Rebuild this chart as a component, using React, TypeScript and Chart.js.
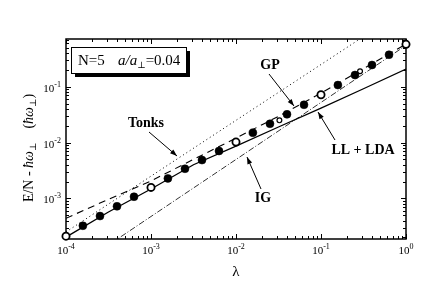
import React, { useEffect, useRef } from "react";
import { Chart, registerables } from "chart.js";
Chart.register(...registerables);

// ---- data ----
const lambdaFilled = [1.58e-4, 2.51e-4, 3.98e-4, 6.31e-4, 1.58e-3, 2.51e-3, 3.98e-3, 6.31e-3, 1.58e-2, 2.51e-2, 3.98e-2, 6.31e-2, 0.158, 0.251, 0.398, 0.631];
const energyFilled = [3.23e-4, 4.82e-4, 7.2e-4, 1.07e-3, 2.28e-3, 3.39e-3, 4.85e-3, 7.05e-3, 1.5e-2, 2.17e-2, 3.2e-2, 4.75e-2, 0.107, 0.162, 0.245, 0.374];
const lambdaOpen = [1e-4, 1e-3, 1e-2, 1e-1, 1];
const energyOpen = [2.1e-4, 1.57e-3, 1.02e-2, 7.19e-2, 0.575];
const lambdaOpenSmall = [0.0324, 0.288];
const energyOpenSmall = [0.025, 0.189];
const lambdaCurve = [1e-4, 3.16e-4, 1e-3, 3.16e-3, 1e-2, 3.16e-2, 1e-1, 3.16e-1, 1];
const energyLL = [2.02e-4, 5.7e-4, 1.47e-3, 4.0e-3, 8.65e-3, 1.9e-2, 4.15e-2, 9.2e-2, 0.207];
const energyGP = [4.4e-4, 9.6e-4, 2.05e-3, 5.0e-3, 1.2e-2, 2.95e-2, 7.7e-2, 0.21, 0.58];
const lambdaTonks = [1e-4, 1];
const energyTonks = [2.5e-4, 2.5];
const lambdaIG = [1e-4, 1];
const energyIG = [4.5e-5, 0.55];
const xDecades = [-4, -3, -2, -1, 0];
const yDecades = [-3, -2, -1];

const pts = (xs: number[], ys: number[]) => xs.map((x, i) => ({ x, y: ys[i] }));

const SERIF = '"Liberation Serif", "DejaVu Serif", serif';

function arrow(ctx: CanvasRenderingContext2D, x1: number, y1: number, x2: number, y2: number) {
  ctx.beginPath();
  ctx.moveTo(x1, y1);
  ctx.lineTo(x2, y2);
  ctx.stroke();
  const a = Math.atan2(y2 - y1, x2 - x1);
  const L = 7, W = 2.5;
  ctx.beginPath();
  ctx.moveTo(x2, y2);
  ctx.lineTo(x2 - L * Math.cos(a) + W * Math.sin(a), y2 - L * Math.sin(a) - W * Math.cos(a));
  ctx.lineTo(x2 - L * Math.cos(a) - W * Math.sin(a), y2 - L * Math.sin(a) + W * Math.cos(a));
  ctx.closePath();
  ctx.fill();
}

function power(ctx: CanvasRenderingContext2D, exp: number, x: number, y: number, align: "center" | "right") {
  const base = "10";
  const e = exp < 0 ? "-" + Math.abs(exp) : String(exp);
  ctx.font = `11px ${SERIF}`;
  const wb = ctx.measureText(base).width;
  ctx.font = `8px ${SERIF}`;
  const we = ctx.measureText(e).width;
  const total = wb + we;
  const sx = align === "center" ? x - total / 2 : x - total;
  ctx.textAlign = "left";
  ctx.textBaseline = "alphabetic";
  ctx.font = `11px ${SERIF}`;
  ctx.fillText(base, sx, y);
  ctx.font = `8px ${SERIF}`;
  ctx.fillText(e, sx + wb, y - 5);
}

const overlay = {
  id: "overlay",
  beforeDraw(chart: any) {
    const ctx = chart.ctx;
    ctx.save();
    ctx.fillStyle = "#fff";
    ctx.fillRect(0, 0, chart.width, chart.height);
    ctx.restore();
  },
  beforeDatasetsDraw(chart: any) {
    const ctx: CanvasRenderingContext2D = chart.ctx;
    const { left, right, top, bottom } = chart.chartArea;
    const xs = chart.scales.x;
    const ys = chart.scales.y;
    ctx.save();
    ctx.strokeStyle = "#000";
    ctx.lineWidth = 1;
    // ticks
    for (let d = -4; d <= 0; d++) {
      for (let m = 1; m <= 9; m++) {
        const v = m * Math.pow(10, d);
        if (v > 1.0001) break;
        const px = Math.round(xs.getPixelForValue(v)) + 0.5;
        const len = m === 1 ? 5 : 3;
        ctx.beginPath();
        ctx.moveTo(px, bottom);
        ctx.lineTo(px, bottom - len);
        ctx.moveTo(px, top);
        ctx.lineTo(px, top + len);
        ctx.stroke();
      }
    }
    for (let d = -4; d <= 0; d++) {
      for (let m = 1; m <= 9; m++) {
        const v = m * Math.pow(10, d);
        if (v < ys.min || v > ys.max) continue;
        const py = Math.round(ys.getPixelForValue(v)) + 0.5;
        const len = m === 1 ? 5 : 3;
        ctx.beginPath();
        ctx.moveTo(left, py);
        ctx.lineTo(left + len, py);
        ctx.moveTo(right, py);
        ctx.lineTo(right - len, py);
        ctx.stroke();
      }
    }
    // frame
    ctx.lineWidth = 1.5;
    ctx.strokeRect(left, top, right - left, bottom - top);
    // tick labels
    ctx.fillStyle = "#000";
    xDecades.forEach((d) => power(ctx, d, xs.getPixelForValue(Math.pow(10, d)), bottom + 15, "center"));
    yDecades.forEach((d) => power(ctx, d, left - 5, ys.getPixelForValue(Math.pow(10, d)) + 5, "right"));
    ctx.restore();
  },
  afterDraw(chart: any) {
    const ctx: CanvasRenderingContext2D = chart.ctx;
    const { left, right, bottom } = chart.chartArea;
    ctx.save();
    ctx.fillStyle = "#000";
    ctx.strokeStyle = "#000";
    // legend-like box
    ctx.fillRect(75, 51, 115, 26);
    ctx.fillStyle = "#fff";
    ctx.fillRect(71, 47, 115, 26);
    ctx.lineWidth = 1;
    ctx.strokeRect(71.5, 47.5, 115, 26);
    ctx.fillStyle = "#000";
    ctx.textBaseline = "alphabetic";
    ctx.textAlign = "left";
    ctx.font = `15px ${SERIF}`;
    ctx.fillText("N=5", 78, 65);
    ctx.font = `italic 15px ${SERIF}`;
    let x = 118;
    ctx.fillText("a/a", x, 65);
    x += ctx.measureText("a/a").width;
    ctx.font = `9px ${SERIF}`;
    ctx.fillText("\u22A5", x, 68);
    x += ctx.measureText("\u22A5").width;
    ctx.font = `15px ${SERIF}`;
    ctx.fillText("=0.04", x, 65);

    // curve labels
    ctx.font = `bold 14px ${SERIF}`;
    ctx.textAlign = "center";
    ctx.textBaseline = "middle";
    ctx.fillText("Tonks", 146, 123);
    ctx.fillText("GP", 270, 65);
    ctx.fillText("LL + LDA", 363, 150);
    ctx.fillText("IG", 263, 198);
    ctx.lineWidth = 1;
    arrow(ctx, 149, 132, 177, 156);
    arrow(ctx, 269, 74, 294, 106);
    arrow(ctx, 335, 140, 318, 112);
    arrow(ctx, 261, 189, 247, 157);

    // x title
    ctx.font = `15px ${SERIF}`;
    ctx.textAlign = "center";
    ctx.textBaseline = "alphabetic";
    ctx.fillText("\u03BB", (left + right) / 2, bottom + 37);

    // y title (rotated)
    ctx.translate(28, 148);
    ctx.rotate(-Math.PI / 2);
    const segs: [string, string, number][] = [
      ["E/N - ", `14px ${SERIF}`, 0],
      ["\u0127\u03C9", `italic 14px ${SERIF}`, 0],
      ["\u22A5", `9px ${SERIF}`, 3],
      ["    (", `14px ${SERIF}`, 0],
      ["\u0127\u03C9", `italic 14px ${SERIF}`, 0],
      ["\u22A5", `9px ${SERIF}`, 3],
      [")", `14px ${SERIF}`, 0],
    ];
    let total = 0;
    segs.forEach(([t, f]) => { ctx.font = f; total += ctx.measureText(t).width; });
    let cx = -total / 2;
    ctx.textAlign = "left";
    segs.forEach(([t, f, dy]) => {
      ctx.font = f;
      ctx.fillText(t, cx, 5 + dy);
      cx += ctx.measureText(t).width;
    });
    ctx.restore();
  },
};

export default function App() {
  const ref = useRef<HTMLCanvasElement>(null);
  useEffect(() => {
    if (!ref.current) return;
    const chart = new Chart(ref.current, {
      type: "scatter",
      data: {
        datasets: [
          { label: "filled", data: pts(lambdaFilled, energyFilled), showLine: false, pointRadius: 4, pointBackgroundColor: "#000", pointBorderColor: "#000", pointBorderWidth: 0.5, clip: false } as any,
          { label: "open", data: pts(lambdaOpen, energyOpen), showLine: false, pointRadius: 3.6, pointBackgroundColor: "#fff", pointBorderColor: "#000", pointBorderWidth: 1.8, clip: false },
          { label: "open small", data: pts(lambdaOpenSmall, energyOpenSmall), showLine: false, pointRadius: 2.4, pointBackgroundColor: "#fff", pointBorderColor: "#000", pointBorderWidth: 1.2, clip: false },
          { label: "LL + LDA", data: pts(lambdaCurve, energyLL), showLine: true, pointRadius: 0, borderColor: "#000", borderWidth: 1.3, tension: 0 },
          { label: "GP", data: pts(lambdaCurve, energyGP), showLine: true, pointRadius: 0, borderColor: "#000", borderWidth: 1.1, borderDash: [7, 5], tension: 0 },
          { label: "Tonks", data: pts(lambdaTonks, energyTonks), showLine: true, pointRadius: 0, borderColor: "#000", borderWidth: 1, borderDash: [1, 3] },
          { label: "IG", data: pts(lambdaIG, energyIG), showLine: true, pointRadius: 0, borderColor: "#000", borderWidth: 0.8, borderDash: [6, 2, 1, 2] },
        ],
      },
      options: {
        responsive: false,
        animation: false,
        devicePixelRatio: 1,
        layout: { padding: { left: 66, right: 42, top: 39, bottom: 44 } },
        plugins: { legend: { display: false }, tooltip: { enabled: false } },
        scales: {
          x: { type: "logarithmic", min: 1e-4, max: 1, display: false },
          y: { type: "logarithmic", min: 1.87e-4, max: 0.716, display: false },
        },
      },
      plugins: [overlay],
    });
    return () => chart.destroy();
  }, []);
  return (
    <div style={{ position: "fixed", left: 0, top: 0, width: 448, height: 283, background: "#fff" }}>
      <canvas ref={ref} width={448} height={283} style={{ display: "block" }} />
    </div>
  );
}
